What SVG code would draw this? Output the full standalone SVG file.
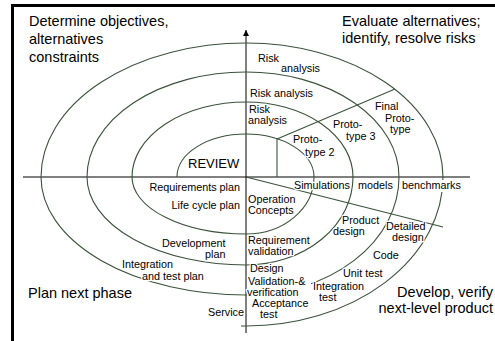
<svg xmlns="http://www.w3.org/2000/svg" width="495" height="341" viewBox="0 0 495 341">
<defs>
<marker id="arr" viewBox="0 0 6 10" refX="6" refY="5" markerWidth="6" markerHeight="10" markerUnits="userSpaceOnUse" orient="auto">
<path d="M0,2 L6,5 L0,8 Z" fill="#000"/>
</marker>
<style>
.bg{fill:#fff}
.frame{stroke:#000;stroke-width:3;fill:none}
.axis{stroke:#000;stroke-width:1;fill:none}
.sp{stroke:#3a523a;stroke-width:1.1;fill:none}
.big{font-family:"Liberation Sans",Arial,sans-serif;font-size:14.5px;fill:#000}
.lb{font-family:"Liberation Sans",Arial,sans-serif;font-size:10.8px;fill:#000;stroke:#fff;stroke-width:2.5;paint-order:stroke;stroke-linejoin:round}
.rv{font-family:"Liberation Sans",Arial,sans-serif;font-size:13px;fill:#000}
.end{text-anchor:end}
</style>
</defs>
<rect class="bg" x="0" y="0" width="495" height="341"/>
<g id="frame">
<path class="frame" d="M12.5,341 V5.5 H495"/>
</g>
<g id="connectors">
<path id="axis-v" class="axis" d="M246,333 V30" marker-end="url(#arr)"/>
<path id="axis-h" class="axis" d="M23,177 H470"/>
<path id="spiral" class="sp" d="M177,177 A69,43 0 0 1 246,134 A68,43 0 0 1 314,177 A68,57 0 0 1 246,234 A114,57 0 0 1 132,177 A114,75 0 0 1 246,102 A107,75 0 0 1 353,177 A107,88 0 0 1 246,265 A159,88 0 0 1 87,177 A159,105 0 0 1 246,72 A153,105 0 0 1 399,177 A153,118 0 0 1 246,295 A205,118 0 0 1 41,177 A205,134 0 0 1 246,43 A197,134 0 0 1 443,177 A197,149 0 0 1 246,326 L241,326"/>
<path id="proto-vert" class="sp" d="M277,139 V177"/>
<path id="proto-diag" class="sp" d="M277,139 L395,89"/>
<path id="dev-diag" class="sp" d="M246,177 L443,227"/>
</g>
<g id="quadrant-labels">
<g id="q-determine"><text class="big" x="29" y="26">Determine objectives,</text><text class="big" x="29" y="44">alternatives</text><text class="big" x="29" y="62">constraints</text></g>
<g id="q-evaluate"><text class="big" x="342" y="26">Evaluate alternatives;</text><text class="big" x="342" y="43">identify, resolve risks</text></g>
<g id="q-plan"><text class="big" x="28" y="298">Plan next phase</text></g>
<g id="q-develop"><text class="big end" x="493" y="297">Develop, verify</text><text class="big end" x="493" y="313">next-level product</text></g>
</g>
<g id="review"><text class="rv" x="188" y="168">REVIEW</text></g>
<g id="risk1"><text class="lb" x="258" y="62">Risk</text><text class="lb" x="281" y="72">analysis</text></g>
<g id="risk2"><text class="lb" x="250" y="97">Risk analysis</text></g>
<g id="risk3"><text class="lb" x="249" y="113">Risk</text><text class="lb" x="248" y="124">analysis</text></g>
<g id="proto2"><text class="lb" x="293" y="143">Proto-</text><text class="lb" x="305" y="156">type 2</text></g>
<g id="proto3"><text class="lb" x="333" y="128">Proto-</text><text class="lb" x="346" y="140">type 3</text></g>
<g id="final-proto"><text class="lb" x="375" y="110">Final</text><text class="lb" x="385" y="122">Proto-</text><text class="lb" x="390" y="133">type</text></g>
<g id="simulations"><text class="lb" x="294" y="189">Simulations</text></g>
<g id="models"><text class="lb" x="358" y="189">models</text></g>
<g id="benchmarks"><rect class="bg" x="401" y="180" width="63" height="12"/><text class="lb" x="402" y="189">benchmarks</text></g>
<g id="op-concepts"><text class="lb" x="248" y="203">Operation</text><text class="lb" x="248" y="214">Concepts</text></g>
<g id="req-validation"><text class="lb" x="248" y="244">Requirement</text><text class="lb" x="248" y="255">validation</text></g>
<g id="product-design"><text class="lb" x="342" y="224">Product</text><text class="lb" x="333" y="235">design</text></g>
<g id="detailed-design"><text class="lb" x="386" y="230">Detailed</text><text class="lb" x="392" y="241">design</text></g>
<g id="code"><text class="lb" x="373" y="259">Code</text></g>
<g id="design-vv"><rect class="bg" x="247" y="277" width="64" height="22"/><text class="lb" x="250" y="272">Design</text><text class="lb" x="248" y="285">Validation-&amp;</text><text class="lb" x="247" y="296">verification</text></g>
<g id="unit-test"><text class="lb" x="343" y="277">Unit test</text></g>
<g id="integration-test"><text class="lb" x="313" y="290">Integration</text><text class="lb" x="319" y="301">test</text></g>
<g id="acceptance-test"><text class="lb" x="252" y="307">Acceptance</text><text class="lb" x="260" y="318">test</text></g>
<g id="req-plan"><text class="lb end" x="240" y="191">Requirements plan</text></g>
<g id="lifecycle-plan"><text class="lb end" x="240" y="209">Life cycle plan</text></g>
<g id="dev-plan"><text class="lb" x="162" y="247">Development</text><text class="lb" x="205" y="258">plan</text></g>
<g id="int-test-plan"><text class="lb" x="122" y="268">Integration</text><text class="lb" x="142" y="280">and test plan</text></g>
<g id="service"><text class="lb end" x="244" y="316">Service</text></g>
</svg>
